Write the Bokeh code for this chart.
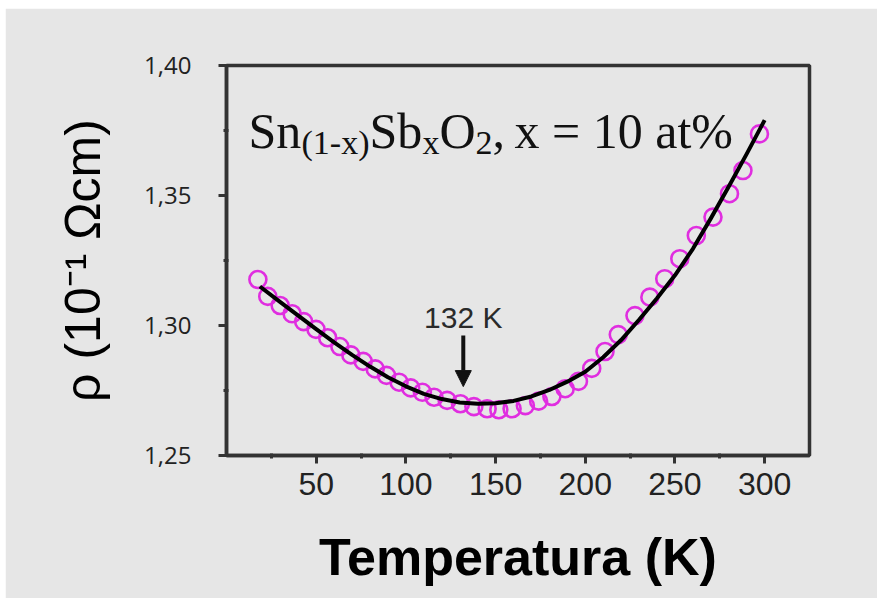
from bokeh.plotting import figure
from bokeh.models import Range1d, FixedTicker, Label, Arrow, NormalHead
from bokeh.embed import file_html
from bokeh.resources import INLINE

# Resistivity of Sn(1-x)SbxO2 (x = 10 at%) versus temperature
temp_data = [17.5, 23.0, 29.9, 36.6, 43.0, 49.9, 56.4, 63.2, 69.3, 76.2, 82.9, 89.2,
             96.2, 102.7, 109.2, 115.7, 123.0, 130.4, 137.9, 145.3, 151.8, 159.2,
             166.6, 174.0, 181.4, 188.8, 196.2, 203.6, 211.0, 218.4, 227.7, 236.0,
             244.3, 252.7, 261.9, 271.2, 280.4, 287.9, 297.1]
rho_data = [1.3177, 1.3112, 1.3077, 1.3045, 1.3015, 1.2985, 1.2953, 1.2919, 1.2887,
            1.2862, 1.2833, 1.2808, 1.2782, 1.2760, 1.2743, 1.2724, 1.2712, 1.2699,
            1.2688, 1.2680, 1.2676, 1.2680, 1.2692, 1.2709, 1.2727, 1.2757, 1.2785,
            1.2835, 1.2900, 1.2965, 1.3038, 1.3109, 1.3180, 1.3257, 1.3346, 1.3417,
            1.3507, 1.3596, 1.3737]

# Fitted curve
temp_fit = [18.6, 30, 40, 50, 60, 70, 80, 90, 100, 110, 120, 130, 140, 150, 160, 170,
            180, 190, 200, 210, 220, 230, 240, 250, 260, 270, 280, 290, 300]
rho_fit = [1.3150, 1.3090, 1.3038, 1.2986, 1.2935, 1.2887, 1.2842, 1.2801, 1.2766,
           1.2737, 1.2717, 1.2704, 1.2699, 1.2701, 1.2710, 1.2727, 1.2752, 1.2784,
           1.2822, 1.2878, 1.2944, 1.3022, 1.3105, 1.3193, 1.3295, 1.3412, 1.3535,
           1.3660, 1.3790]

x_ticks = [50, 100, 150, 200, 250, 300]
x_minor_ticks = [25, 75, 125, 175, 225, 275]
y_ticks = [1.25, 1.30, 1.35, 1.40]
y_tick_labels = ["1,25", "1,30", "1,35", "1,40"]
y_minor_ticks = [1.275, 1.325, 1.375]

t_min = 132  # temperature of the resistivity minimum

BG = "#e6e6e6"
INK = "#333333"

p = figure(width=872, height=590,
           x_range=Range1d(0, 325), y_range=Range1d(1.25, 1.40),
           output_backend="svg", toolbar_location=None,
           min_border_left=221, min_border_right=68,
           min_border_top=57, min_border_bottom=143,
           background_fill_color=BG, border_fill_color=BG)
p.margin = (8, 0, 0, 5)

p.xgrid.visible = False
p.ygrid.visible = False
p.outline_line_color = INK
p.outline_line_width = 3.5
p.outline_line_alpha = 1.0

p.xaxis.ticker = FixedTicker(ticks=x_ticks, minor_ticks=x_minor_ticks)
p.yaxis.ticker = FixedTicker(ticks=y_ticks, minor_ticks=y_minor_ticks)
p.yaxis.major_label_overrides = {t: s for t, s in zip(y_ticks, y_tick_labels)}

for ax in (p.xaxis[0], p.yaxis[0]):
    ax.axis_line_color = INK
    ax.axis_line_width = 3.5
    ax.major_tick_line_color = INK
    ax.major_tick_line_width = 3
    ax.major_tick_out = 8
    ax.major_tick_in = 0
    ax.minor_tick_line_color = INK
    ax.minor_tick_line_width = 3
    ax.minor_tick_out = 3
    ax.minor_tick_in = 2
    ax.major_label_text_color = "#222222"
    ax.axis_label_text_color = "#000000"

p.xaxis.major_label_text_font = "Liberation Sans"
p.xaxis.major_label_text_font_size = "32px"
p.xaxis.major_label_standoff = 9
p.xaxis.axis_label = "Temperatura (K)"
p.xaxis.axis_label_text_font = "Liberation Sans"
p.xaxis.axis_label_text_font_style = "bold"
p.xaxis.axis_label_text_font_size = "52px"
p.xaxis.axis_label_standoff = 30

p.yaxis.major_label_text_font = "Open Sans"
p.yaxis.major_label_text_font_size = "24px"
p.yaxis.major_label_standoff = 27
p.yaxis.axis_label = "ρ (10⁻¹ Ωcm)"
p.yaxis.axis_label_text_font = "Liberation Sans"
p.yaxis.axis_label_text_font_style = "normal"
p.yaxis.axis_label_text_font_size = "50px"
p.yaxis.axis_label_standoff = 30

# measured points and fit
p.scatter(temp_data, rho_data, marker="circle", size=17, fill_color=None,
          line_color="#e02ee0", line_width=2.6)
p.line(temp_fit, rho_fit, line_width=4, line_color="#000000", line_join="round")

# minimum marker
p.add_layout(Arrow(end=NormalHead(size=16, fill_color="#111111", line_color="#111111"),
                   x_start=t_min, y_start=1.2962, x_end=t_min, y_end=1.2765,
                   line_width=4, line_color="#111111"))
p.add_layout(Label(x=t_min, y=1.2962, text=f"{t_min} K", text_align="center",
                   text_baseline="alphabetic", y_offset=18,
                   text_font="Liberation Sans", text_font_size="30px",
                   text_color="#2a2a2a"))

# compound formula with subscripts, anchored at the top-left corner of the frame
formula = [
    ("Sn", 22, False),
    ("(1-x)", 75, True),
    ("Sb", 143, False),
    ("x", 196, True),
    ("O", 213, False),
    ("2", 249, True),
    (",", 266, False),
    ("x = 10 at%", 288, False),
]
for txt, dx, sub in formula:
    p.add_layout(Label(x=0, y=1.40, x_offset=dx, y_offset=-77 if sub else -65,
                       text=txt, text_align="left", text_baseline="alphabetic",
                       text_font="Liberation Serif",
                       text_font_size="34px" if sub else "50px",
                       text_color="#111111"))

open("out.html", "w").write(file_html(p, INLINE))
